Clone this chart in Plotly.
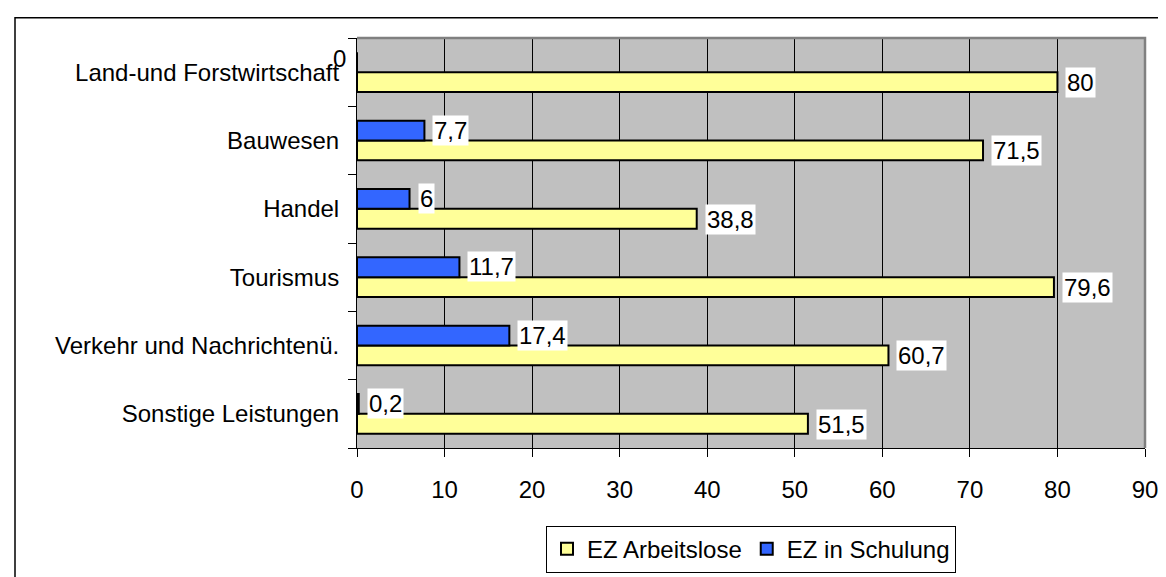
import plotly.graph_objects as go

# --- data (top to bottom as shown) ---
categories = [
    "Land-und Forstwirtschaft",
    "Bauwesen",
    "Handel",
    "Tourismus",
    "Verkehr und Nachrichtenü.",
    "Sonstige Leistungen",
]
arbeitslose = [80, 71.5, 38.8, 79.6, 60.7, 51.5]
schulung = [0, 7.7, 6, 11.7, 17.4, 0.2]
x_ticks = [0, 10, 20, 30, 40, 50, 60, 70, 80, 90]

# --- design ---
FONT = "Liberation Sans, Arial, sans-serif"
YELLOW = "#FFFF99"
BLUE = "#3366FF"
PLOT_BG = "#C0C0C0"
W, H = 1166, 577
MARGIN = {"l": 349, "r": 29, "t": 30, "b": 124}
BARGAP = 0.42

plot_w = W - MARGIN["l"] - MARGIN["r"]
plot_h = H - MARGIN["t"] - MARGIN["b"]
bar_px = (1 - BARGAP) / 2 * plot_h / len(categories)


def fmt(v):
    return f"{v:g}".replace(".", ",")


fig = go.Figure()
fig.add_trace(go.Bar(
    y=categories, x=arbeitslose, name="EZ Arbeitslose", orientation="h",
    marker={"color": YELLOW, "line": {"color": "black", "width": 2}},
    hoverinfo="x+y",
))
fig.add_trace(go.Bar(
    y=categories, x=schulung, name="EZ in Schulung", orientation="h",
    marker={"color": BLUE, "line": {"color": "black", "width": 2}},
    hoverinfo="x+y",
))

# value labels with white boxes, like the original
annotations = []
for values, shift in ((arbeitslose, -bar_px / 2), (schulung, bar_px / 2)):
    for cat, v in zip(categories, values):
        zero = v == 0
        annotations.append(dict(
            x=v, y=cat, xref="x", yref="y", text=fmt(v), showarrow=False,
            xanchor="right" if zero else "left",
            xshift=-9 if zero else 8, yshift=shift + (3 if zero else 0),
            bgcolor="rgba(0,0,0,0)" if zero else "white", borderpad=1,
            font={"family": FONT, "size": 24, "color": "black"},
        ))

# outer chart frame (left/top edges visible) and gray plot border top/right
fx0 = (7 - MARGIN["l"]) / plot_w
fy1 = 1 + (MARGIN["t"] - 9) / plot_h
shapes = [
    dict(type="rect", xref="paper", yref="paper", x0=fx0, x1=1.2, y0=-0.5, y1=fy1,
         line={"color": "black", "width": 1.5}, fillcolor="rgba(0,0,0,0)", layer="below"),
    dict(type="path", xref="paper", yref="paper", path="M 0,1 L 1,1 L 1,0",
         line={"color": "#808080", "width": 2.5}, layer="above"),
]

fig.update_layout(
    width=W, height=H,
    margin=MARGIN,
    paper_bgcolor="white",
    plot_bgcolor=PLOT_BG,
    barmode="group",
    bargap=BARGAP,
    bargroupgap=0,
    font={"family": FONT, "size": 24, "color": "black"},
    showlegend=True,
    legend={
        "orientation": "h", "x": 0.5, "xanchor": "center",
        "y": -(533 - (H - MARGIN["b"])) / plot_h, "yanchor": "top",
        "bgcolor": "white", "bordercolor": "black", "borderwidth": 1,
        "font": {"family": FONT, "size": 24}, "itemwidth": 30,
        "tracegroupgap": 0,
    },
    annotations=annotations,
    shapes=shapes,
)

fig.update_xaxes(
    range=[0, 90], tickvals=x_ticks, ticktext=[str(t) for t in x_ticks],
    showgrid=True, gridcolor="black", gridwidth=1,
    showline=True, linecolor="black", linewidth=1,
    ticks="outside", ticklen=8, tickcolor="black", ticklabelstandoff=12,
    zeroline=False, fixedrange=True,
)
fig.update_yaxes(
    type="category", categoryorder="array", categoryarray=categories[::-1],
    showgrid=False, showline=True, linecolor="black", linewidth=1,
    ticks="outside", ticklen=8, tickcolor="black", tickson="boundaries",
    ticklabelstandoff=12,
    zeroline=False, fixedrange=True,
)

fig.write_html("out.html")
